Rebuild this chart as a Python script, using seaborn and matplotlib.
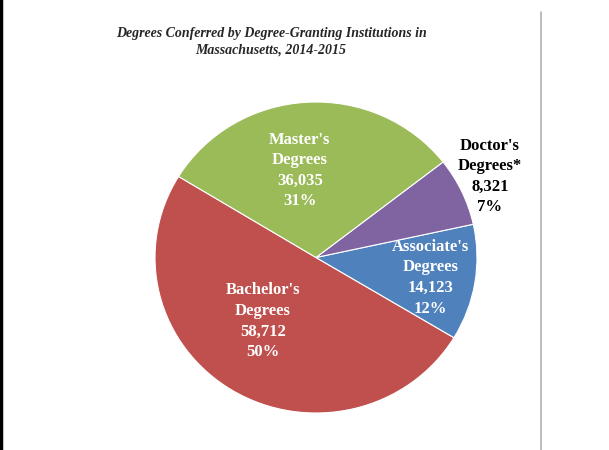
import matplotlib
matplotlib.use('Agg')
import matplotlib.pyplot as plt
import seaborn as sns

# data
categories = ["Bachelor's\nDegrees", "Associate's\nDegrees", "Doctor's\nDegrees*", "Master's\nDegrees"]
counts = [58712, 14123, 8321, 36035]
colors = ['#C0504D', '#4F81BD', '#8064A2', '#9BBB59']
label_colors = ['white', 'white', 'black', 'white']
label_pos = [(-0.33, -0.41), (0.71, -0.13), (1.08, 0.52), (-0.10, 0.56)]

sns.set_theme(style='white')
plt.rcParams['font.family'] = ['Liberation Serif', 'DejaVu Serif']

fig = plt.figure(figsize=(6.09, 4.5), dpi=100)
fig.patch.set_facecolor('white')

# pie axes (slightly wider than tall, like the source)
ax = fig.add_axes([155 / 609, (450 - 413) / 450, 322 / 609, 311 / 450])
wedges, _ = ax.pie(counts, colors=colors, startangle=148.6, counterclock=True,
                   wedgeprops=dict(edgecolor='white', linewidth=0.8))
ax.set_aspect('auto')
ax.set_xlim(-1, 1)
ax.set_ylim(-1, 1)
ax.axis('off')

total = sum(counts)
for name, n, c, (x, y) in zip(categories, counts, label_colors, label_pos):
    pct = round(100 * n / total)
    ax.text(x, y, f"{name}\n{n:,}\n{pct}%", ha='center', va='center',
            color=c, fontsize=12, fontweight='bold', linespacing=1.38)

fig.text(271 / 609, 1 - 42 / 450,
         'Degrees Conferred by Degree-Granting Institutions in\nMassachusetts, 2014-2015',
         ha='center', va='center', fontsize=10, fontweight='bold', style='italic',
         linespacing=1.35)

# page edges
fig.add_artist(plt.Line2D([1 / 609, 1 / 609], [0, 1], color='black', linewidth=2.5))
fig.add_artist(plt.Line2D([541 / 609, 541 / 609], [0, 1 - 12 / 450], color='#B0B0B0', linewidth=1.2))

fig.savefig('out.png', dpi=100, facecolor='white')
